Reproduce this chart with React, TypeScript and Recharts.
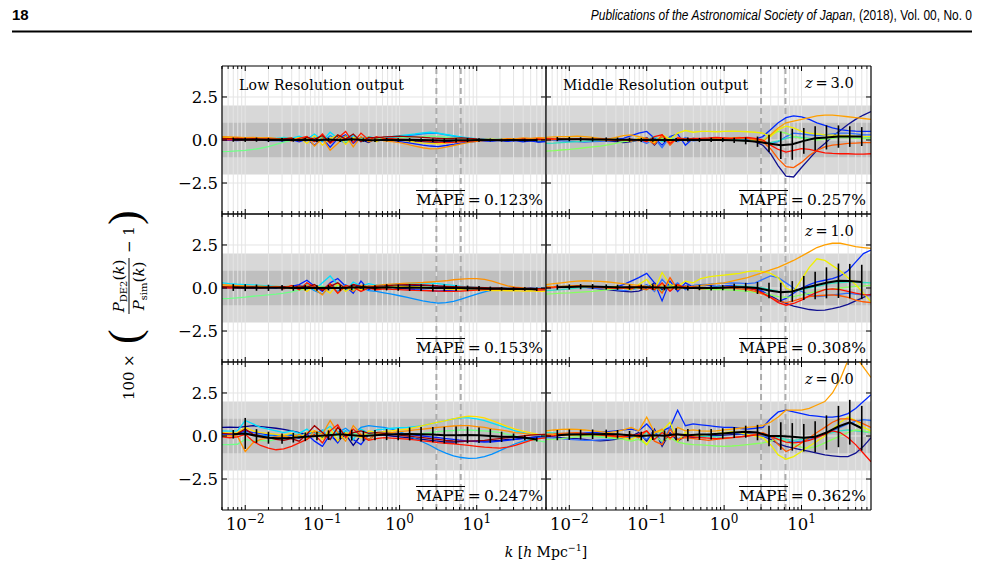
import React from 'react';
import { LineChart, Line, XAxis, YAxis, ReferenceArea, ReferenceLine, ErrorBar } from 'recharts';

// wavenumber grid (h/Mpc) of the individual realisation curves
const kGrid = [0.005, 0.0063, 0.0079, 0.01, 0.0126, 0.0158, 0.02, 0.0251, 0.0316, 0.0398,
  0.05, 0.063, 0.079, 0.1, 0.126, 0.158, 0.2, 0.251, 0.316, 0.398,
  0.5, 0.63, 0.79, 1, 1.26, 1.58, 2, 2.51, 3.16, 3.98,
  5, 6.3, 7.9, 10, 12.6, 15.8, 20, 25.1, 31.6, 39.8,
  50, 63, 79];
// coarser grid of the ensemble mean and its scatter
const kMean = [0.007, 0.01, 0.014, 0.02, 0.03, 0.042, 0.06, 0.085, 0.12, 0.17, 0.24, 0.34, 0.48, 0.68,
  0.96, 1.35, 1.9, 2.7, 3.8, 5.4, 7.6, 10.7, 15, 21, 30, 42, 60];

const xTicks = [0.005, 0.006, 0.007, 0.008, 0.009, 0.01, 0.02, 0.03, 0.04, 0.05, 0.06, 0.07, 0.08, 0.09,
  0.1, 0.2, 0.3, 0.4, 0.5, 0.6, 0.7, 0.8, 0.9, 1, 2, 3, 4, 5, 6, 7, 8, 9, 10, 20, 30, 40, 50, 60, 70];
const decadeTicks = [0.01, 0.1, 1, 10];
const decadeExponents = ['−2', '−1', '0', '1'];
const yTicks = [-2.5, 0, 2.5];
const xDomain = [0.005, 79];
const yDomain = [-4.3, 4.3];
const outerBand = [-2, 2];
const innerBand = [-1, 1];
const scaleMarks = [3, 6.2];

const leftColors = ['#00008f', '#0020ff', '#0090ff', '#00e0ff', '#70ff88', '#ffe000', '#ff9000', '#ff1800', '#a00000'];
const rightColors = ['#10108f', '#0028ff', '#3070ff', '#30e0c0', '#88ff60', '#f0f000', '#ffa000', '#ff5a00', '#ff1000'];

// ---- Low resolution, z = 3.0
const lowZ3a = [0.06, 0.05, 0.07, 0.04, 0.06, 0.03, 0.05, 0.04, 0.02, 0.06, 0.0, 0.1, -0.08, 0.15, -0.12, 0.22, -0.1, 0.12, 0.02, -0.15, 0.12, 0.0, 0.06, 0.02, -0.04, -0.08, -0.1, -0.12, -0.14, -0.1, -0.08, -0.06, -0.05, -0.04, -0.02, -0.04, 0.0, -0.06, 0.03, -0.08, -0.02, -0.1, -0.06];
const lowZ3b = [-0.02, 0.0, -0.03, 0.01, -0.02, 0.0, -0.04, -0.02, -0.06, 0.02, -0.1, 0.05, -0.3, 0.1, -0.42, 0.08, 0.3, -0.2, 0.15, 0.1, -0.08, 0.05, -0.05, -0.1, -0.15, -0.22, -0.3, -0.35, -0.38, -0.32, -0.25, -0.18, -0.12, -0.08, -0.05, -0.06, -0.02, -0.08, -0.04, -0.1, -0.05, -0.12, -0.1];
const lowZ3c = [0.08, 0.06, 0.05, 0.07, 0.04, 0.06, 0.03, 0.05, 0.08, 0.02, 0.12, -0.05, 0.18, -0.1, 0.25, 0.05, -0.2, 0.3, -0.1, 0.08, 0.15, 0.1, 0.12, 0.18, 0.25, 0.3, 0.35, 0.4, 0.38, 0.3, 0.22, 0.15, 0.1, 0.06, 0.04, 0.02, 0.03, -0.02, 0.01, -0.03, 0.0, -0.04, -0.02];
const lowZ3d = [0.12, 0.1, 0.11, 0.08, 0.1, 0.07, 0.09, 0.1, 0.15, 0.1, 0.22, 0.05, 0.35, -0.05, 0.45, 0.1, 0.2, 0.25, 0.05, 0.2, 0.1, 0.15, 0.2, 0.25, 0.3, 0.35, 0.42, 0.45, 0.4, 0.32, 0.25, 0.18, 0.12, 0.08, 0.05, 0.03, 0.04, 0.0, 0.02, -0.02, 0.01, -0.03, 0.0];
const lowZ3e = [-0.68, -0.66, -0.63, -0.6, -0.55, -0.48, -0.38, -0.25, -0.12, -0.03, 0.05, 0.1, -0.05, 0.2, 0.0, 0.15, -0.1, 0.1, 0.05, -0.05, 0.08, 0.05, 0.1, 0.12, 0.15, 0.18, 0.2, 0.22, 0.2, 0.16, 0.12, 0.08, 0.05, 0.03, 0.02, 0.01, 0.03, 0.0, 0.02, -0.01, 0.01, -0.02, 0.0];
const lowZ3f = [0.15, 0.14, 0.12, 0.13, 0.1, 0.12, 0.09, 0.08, 0.1, 0.0, 0.15, -0.2, 0.25, -0.3, 0.1, 0.28, -0.25, 0.15, 0.0, 0.18, -0.1, 0.1, 0.05, 0.0, -0.05, -0.12, -0.18, -0.2, -0.22, -0.18, -0.12, -0.06, -0.02, 0.02, 0.03, 0.05, 0.02, 0.06, 0.03, 0.07, 0.05, 0.08, 0.06];
const lowZ3g = [0.2, 0.18, 0.16, 0.14, 0.15, 0.12, 0.13, 0.1, 0.08, 0.12, -0.05, 0.2, -0.35, 0.1, -0.6, -0.2, 0.25, -0.4, 0.2, -0.1, 0.05, -0.05, -0.1, -0.15, -0.25, -0.35, -0.45, -0.52, -0.5, -0.42, -0.32, -0.22, -0.14, -0.08, -0.04, 0.0, 0.04, 0.08, 0.06, 0.12, 0.1, 0.14, 0.12];
const lowZ3h = [0.0, 0.02, 0.01, 0.03, 0.0, 0.02, 0.01, -0.02, 0.05, -0.05, 0.1, 0.2, -0.1, 0.35, -0.2, 0.1, 0.5, -0.15, 0.4, 0.0, 0.2, 0.1, 0.08, 0.05, 0.02, -0.02, -0.05, -0.08, -0.12, -0.15, -0.14, -0.1, -0.06, -0.03, 0.0, 0.02, -0.02, 0.04, 0.0, 0.05, 0.02, 0.06, 0.04];
const lowZ3i = [0.1, 0.08, 0.09, 0.07, 0.08, 0.06, 0.07, 0.05, 0.06, 0.1, -0.05, 0.15, 0.05, 0.25, -0.15, 0.3, 0.05, 0.35, -0.1, 0.15, 0.12, 0.18, 0.2, 0.22, 0.2, 0.18, 0.15, 0.12, 0.1, 0.08, 0.1, 0.12, 0.1, 0.06, 0.04, 0.02, 0.0, 0.02, -0.01, 0.03, 0.0, 0.02, 0.01];
const lowZ3Mean = [0.02, 0.01, 0.02, 0.0, 0.01, 0.0, 0.02, -0.02, 0.03, -0.02, 0.04, 0.0, -0.02, 0.02, 0.0, 0.01, 0.0, -0.02, -0.03, -0.02, -0.01, 0.0, 0.0, -0.01, 0.0, -0.01, 0.0];
const lowZ3Err = [0.12, 0.12, 0.12, 0.12, 0.1, 0.1, 0.1, 0.1, 0.1, 0.1, 0.1, 0.1, 0.1, 0.1, 0.1, 0.1, 0.1, 0.1, 0.12, 0.12, 0.12, 0.1, 0.08, 0.08, 0.08, 0.08, 0.08];

// ---- Low resolution, z = 1.0
const lowZ1a = [0.05, 0.04, 0.05, 0.03, 0.04, 0.02, 0.03, 0.02, 0.05, 0.0, 0.08, -0.05, 0.12, -0.15, 0.2, 0.0, -0.1, 0.15, -0.05, 0.1, 0.05, 0.08, 0.1, 0.12, 0.14, 0.15, 0.14, 0.12, 0.1, 0.08, 0.06, 0.05, 0.03, 0.0, -0.02, -0.04, -0.06, -0.05, -0.08, -0.06, -0.1, -0.08, -0.1];
const lowZ1b = [0.0, 0.02, 0.0, 0.01, -0.02, 0.0, 0.02, 0.0, 0.05, 0.1, 0.2, 0.45, 0.1, -0.2, 0.3, 0.55, 0.1, -0.3, 0.4, -0.1, 0.15, 0.1, 0.05, 0.0, -0.05, -0.1, -0.12, -0.15, -0.18, -0.15, -0.12, -0.1, -0.08, -0.05, -0.04, -0.02, 0.0, -0.03, 0.01, -0.04, 0.0, -0.05, -0.02];
const lowZ1c = [0.1, 0.08, 0.06, 0.07, 0.05, 0.06, 0.04, 0.05, 0.02, 0.0, -0.05, 0.1, -0.15, -0.35, 0.1, -0.2, 0.2, -0.1, 0.05, -0.15, -0.2, -0.28, -0.35, -0.45, -0.55, -0.65, -0.75, -0.82, -0.88, -0.85, -0.78, -0.65, -0.5, -0.35, -0.22, -0.12, -0.06, -0.03, -0.05, -0.02, -0.04, -0.01, -0.03];
const lowZ1d = [0.3, 0.25, 0.22, 0.2, 0.18, 0.15, 0.12, 0.1, 0.08, 0.1, 0.05, 0.2, -0.1, 0.3, 0.7, 0.2, -0.15, 0.35, 0.1, 0.25, 0.15, 0.18, 0.2, 0.22, 0.25, 0.28, 0.3, 0.28, 0.25, 0.2, 0.15, 0.1, 0.06, 0.04, 0.02, 0.0, 0.02, -0.02, 0.0, -0.03, -0.01, -0.04, -0.02];
const lowZ1e = [-0.62, -0.6, -0.57, -0.53, -0.48, -0.44, -0.4, -0.36, -0.3, -0.22, -0.12, -0.05, 0.0, 0.1, -0.05, 0.15, 0.05, -0.1, 0.12, 0.05, 0.08, 0.1, 0.12, 0.1, 0.08, 0.06, 0.05, 0.04, 0.03, 0.02, 0.0, -0.02, -0.03, -0.04, -0.05, -0.06, -0.05, -0.07, -0.05, -0.08, -0.06, -0.09, -0.08];
const lowZ1f = [0.12, 0.1, 0.08, 0.06, 0.07, 0.05, 0.06, 0.04, 0.03, -0.05, 0.1, -0.2, 0.15, 0.0, -0.3, 0.25, -0.2, 0.1, -0.1, 0.05, 0.0, 0.02, 0.05, 0.08, 0.1, 0.08, 0.05, 0.02, 0.0, -0.05, -0.08, -0.1, -0.12, -0.12, -0.14, -0.15, -0.14, -0.16, -0.15, -0.18, -0.16, -0.2, -0.2];
const lowZ1g = [0.2, 0.16, 0.14, 0.12, 0.1, 0.11, 0.08, 0.1, 0.06, 0.12, -0.1, 0.15, -0.05, -0.4, 0.2, -0.3, 0.1, -0.2, 0.15, 0.1, 0.15, 0.2, 0.22, 0.25, 0.28, 0.3, 0.32, 0.35, 0.38, 0.42, 0.48, 0.52, 0.55, 0.55, 0.5, 0.4, 0.25, 0.12, 0.05, 0.0, -0.05, -0.08, -0.12];
const lowZ1h = [0.02, 0.0, 0.03, 0.01, 0.02, 0.0, 0.02, 0.05, -0.05, 0.15, -0.1, 0.3, 0.05, -0.1, 0.25, -0.3, 0.15, 0.05, -0.2, 0.0, -0.1, -0.05, -0.08, -0.1, -0.12, -0.14, -0.15, -0.16, -0.18, -0.2, -0.2, -0.18, -0.15, -0.12, -0.1, -0.08, -0.05, -0.08, -0.04, -0.1, -0.06, -0.12, -0.1];
const lowZ1i = [0.08, 0.07, 0.06, 0.05, 0.06, 0.04, 0.05, 0.03, 0.08, 0.0, 0.12, 0.05, 0.2, -0.15, 0.1, 0.3, -0.05, 0.2, 0.1, 0.05, 0.1, 0.12, 0.15, 0.18, 0.2, 0.2, 0.18, 0.15, 0.12, 0.1, 0.08, 0.06, 0.05, 0.04, 0.02, 0.0, 0.01, -0.02, 0.0, -0.03, -0.01, -0.04, -0.03];
const lowZ1Mean = [0.03, 0.02, 0.02, 0.01, 0.02, 0.0, 0.01, 0.0, 0.02, 0.0, 0.03, 0.05, 0.0, 0.04, 0.02, 0.03, 0.02, 0.0, 0.01, 0.0, -0.02, -0.03, -0.04, -0.05, -0.06, -0.06, -0.07];
const lowZ1Err = [0.2, 0.2, 0.18, 0.18, 0.16, 0.16, 0.16, 0.16, 0.16, 0.16, 0.16, 0.16, 0.16, 0.18, 0.18, 0.2, 0.2, 0.2, 0.2, 0.18, 0.16, 0.14, 0.12, 0.1, 0.1, 0.1, 0.1];

// ---- Low resolution, z = 0.0
const lowZ0a = [0.5, 0.52, 0.5, 0.55, 0.6, 0.55, 0.5, 0.45, 0.38, 0.3, 0.2, 0.1, 0.25, -0.1, 0.05, -0.3, 0.1, -0.55, 0.05, -0.2, 0.1, 0.05, 0.0, -0.05, -0.1, -0.15, -0.2, -0.25, -0.3, -0.35, -0.35, -0.32, -0.3, -0.28, -0.3, -0.28, -0.25, -0.2, -0.18, -0.12, -0.08, -0.04, 0.0];
const lowZ0b = [0.1, 0.08, 0.12, 0.3, 0.2, 0.15, 0.05, 0.0, -0.1, 0.05, -0.15, 0.1, -0.3, -0.6, 0.1, -0.4, 0.3, -0.2, -0.5, 0.1, 0.2, 0.25, 0.2, 0.15, 0.1, 0.05, 0.0, -0.05, -0.1, -0.15, -0.2, -0.25, -0.3, -0.32, -0.35, -0.34, -0.3, -0.25, -0.2, -0.15, -0.1, -0.06, -0.04];
const lowZ0c = [0.05, 0.04, 0.06, 0.2, 0.1, 0.05, 0.0, 0.08, 0.02, 0.1, 0.0, 0.2, 0.1, 0.35, -0.2, 0.2, 0.45, 0.1, 0.5, 0.6, 0.55, 0.5, 0.4, 0.25, 0.05, -0.15, -0.35, -0.55, -0.8, -1.0, -1.15, -1.25, -1.3, -1.28, -1.2, -1.05, -0.85, -0.65, -0.45, -0.3, -0.2, -0.12, -0.08];
const lowZ0d = [0.3, 0.28, 0.3, 0.9, 0.7, 0.5, 0.4, 0.3, 0.2, 0.3, 0.15, 0.4, 0.0, 0.3, 0.55, 0.1, 0.3, -0.2, 0.4, 0.15, 0.35, 0.4, 0.45, 0.48, 0.5, 0.55, 0.6, 0.7, 0.8, 0.9, 1.0, 1.05, 1.05, 1.0, 0.9, 0.75, 0.6, 0.45, 0.3, 0.2, 0.1, 0.05, 0.0];
const lowZ0e = [-0.5, -0.5, -0.48, -0.2, -0.3, -0.25, -0.3, -0.2, -0.15, -0.1, 0.0, -0.1, 0.1, -0.05, 0.2, 0.0, -0.15, 0.2, 0.0, 0.1, 0.15, 0.12, 0.1, 0.08, 0.1, 0.12, 0.15, 0.2, 0.25, 0.3, 0.32, 0.35, 0.35, 0.32, 0.3, 0.25, 0.2, 0.1, 0.0, -0.1, -0.2, -0.28, -0.35];
const lowZ0f = [0.2, 0.18, 0.2, 0.5, 0.3, 0.2, 0.15, 0.1, 0.05, 0.15, -0.1, 0.2, 0.3, -0.2, 0.45, -0.3, 0.2, 0.05, -0.1, 0.3, 0.2, 0.25, 0.3, 0.35, 0.4, 0.5, 0.6, 0.7, 0.8, 0.9, 1.0, 1.1, 1.15, 1.12, 1.05, 0.9, 0.72, 0.55, 0.4, 0.28, 0.18, 0.1, 0.05];
const lowZ0g = [0.0, 0.02, 0.0, -0.9, -0.4, -0.2, -0.1, -0.05, 0.0, -0.1, 0.1, -0.2, 0.3, 0.1, 0.9, 0.2, -0.3, 0.6, 0.1, -0.2, 0.1, 0.15, 0.2, 0.25, 0.3, 0.35, 0.4, 0.45, 0.5, 0.55, 0.58, 0.6, 0.6, 0.55, 0.5, 0.42, 0.35, 0.28, 0.2, 0.15, 0.1, 0.08, 0.1];
const lowZ0h = [-0.05, -0.1, -0.05, 0.1, -0.3, -0.55, -0.7, -0.8, -0.75, -0.6, -0.4, -0.2, 0.1, -0.4, 0.3, 0.65, -0.1, 0.4, 0.0, -0.25, -0.15, -0.1, -0.12, -0.15, -0.18, -0.22, -0.28, -0.32, -0.38, -0.42, -0.45, -0.5, -0.55, -0.6, -0.65, -0.68, -0.7, -0.65, -0.55, -0.4, -0.25, -0.15, -0.1];
const lowZ0i = [0.15, 0.12, 0.14, 0.4, 0.1, 0.0, -0.1, -0.2, -0.25, -0.15, -0.3, 0.1, 0.6, 0.2, -0.2, 0.5, 0.0, 0.2, 0.3, 0.15, 0.2, 0.15, 0.1, 0.05, 0.0, -0.05, -0.1, -0.15, -0.2, -0.25, -0.28, -0.3, -0.3, -0.28, -0.25, -0.2, -0.15, -0.1, -0.05, 0.0, 0.05, 0.08, 0.1];
const lowZ0Mean = [0.1, 0.15, 0.0, -0.1, -0.15, -0.1, -0.05, 0.0, 0.05, 0.1, 0.05, 0.0, 0.05, 0.08, 0.1, 0.12, 0.1, 0.08, 0.05, 0.05, 0.06, 0.05, 0.0, -0.05, -0.05, -0.1, -0.2];
const lowZ0Err = [0.25, 0.9, 0.4, 0.35, 0.3, 0.28, 0.25, 0.25, 0.28, 0.3, 0.32, 0.3, 0.3, 0.32, 0.35, 0.38, 0.42, 0.45, 0.48, 0.5, 0.48, 0.45, 0.4, 0.3, 0.2, 0.15, 0.12];

// ---- Middle resolution, z = 3.0
const midZ3a = [0.05, 0.04, 0.05, 0.06, 0.05, 0.04, 0.02, 0.0, -0.05, -0.1, -0.15, -0.1, 0.0, 0.15, -0.3, 0.2, -0.1, 0.1, 0.0, 0.05, 0.02, 0.0, 0.0, 0.02, 0.0, -0.02, -0.05, -0.1, -0.3, -0.8, -1.5, -2.1, -2.15, -1.6, -1.1, -0.6, -0.2, 0.2, 0.55, 0.9, 1.2, 1.45, 1.65];
const midZ3b = [0.1, 0.08, 0.06, 0.05, 0.04, 0.05, 0.03, 0.02, 0.0, 0.05, 0.1, 0.25, 0.4, 0.5, 0.1, -0.3, 0.2, 0.35, -0.3, 0.1, 0.0, 0.05, 0.02, 0.0, -0.02, 0.0, 0.02, 0.05, 0.2, 0.6, 1.0, 1.3, 1.4, 1.35, 1.2, 1.0, 0.85, 0.7, 0.6, 0.55, 0.52, 0.5, 0.5];
const midZ3c = [0.0, -0.02, -0.05, -0.08, -0.1, -0.12, -0.1, -0.08, -0.05, -0.02, 0.0, 0.05, 0.0, -0.2, 0.1, -0.45, 0.2, -0.1, 0.15, -0.05, 0.0, 0.02, 0.0, -0.02, 0.0, 0.02, 0.0, -0.05, -0.1, -0.2, -0.1, 0.2, 0.4, 0.35, 0.3, 0.25, 0.3, 0.35, 0.4, 0.4, 0.35, 0.3, 0.3];
const midZ3d = [-0.2, -0.18, -0.15, -0.12, -0.1, -0.08, -0.05, -0.02, 0.0, 0.02, 0.0, -0.05, 0.05, 0.0, 0.2, -0.1, 0.1, 0.0, 0.05, 0.0, 0.02, 0.05, 0.02, 0.0, 0.02, 0.0, -0.02, -0.05, -0.1, -0.15, -0.05, 0.1, 0.2, 0.15, 0.1, 0.05, 0.1, 0.15, 0.2, 0.22, 0.2, 0.18, 0.15];
const midZ3e = [-0.65, -0.62, -0.58, -0.55, -0.5, -0.45, -0.4, -0.35, -0.28, -0.2, -0.1, -0.05, 0.0, 0.05, -0.1, 0.1, 0.0, 0.05, 0.0, 0.02, 0.0, 0.0, -0.02, 0.0, 0.0, -0.02, -0.05, -0.05, 0.0, 0.3, 0.5, 0.4, 0.2, 0.1, 0.05, 0.0, 0.05, 0.1, 0.15, 0.12, 0.1, 0.08, 0.05];
const midZ3f = [0.05, 0.06, 0.08, 0.1, 0.08, 0.06, 0.05, 0.03, 0.0, 0.05, 0.0, -0.05, 0.1, 0.0, -0.2, 0.3, 0.05, 0.4, 0.55, 0.45, 0.5, 0.5, 0.48, 0.5, 0.52, 0.5, 0.48, 0.45, 0.4, 0.2, 0.6, 0.8, 0.7, 0.5, 0.4, 0.35, 0.3, 0.28, 0.25, 0.25, 0.22, 0.2, 0.2];
const midZ3g = [0.15, 0.18, 0.2, 0.2, 0.22, 0.2, 0.15, 0.1, 0.05, 0.15, 0.25, 0.3, 0.2, 0.1, -0.1, 0.2, -0.1, 0.1, 0.0, 0.05, 0.0, 0.05, 0.08, 0.1, 0.12, 0.15, 0.1, 0.0, -0.1, 0.3, 0.7, 1.0, 1.1, 1.2, 1.3, 1.4, 1.45, 1.45, 1.4, 1.35, 1.3, 1.25, 1.2];
const midZ3h = [0.0, 0.02, 0.04, 0.05, 0.06, 0.05, 0.04, 0.02, 0.0, -0.02, 0.0, 0.05, -0.05, 0.1, -0.25, 0.3, -0.3, 0.15, 0.05, 0.1, 0.08, 0.05, 0.05, 0.08, 0.1, 0.12, 0.1, 0.05, -0.1, -0.5, -1.1, -1.55, -1.6, -1.3, -0.9, -0.6, -0.4, -0.3, -0.25, -0.2, -0.18, -0.15, -0.15];
const midZ3i = [0.08, 0.07, 0.06, 0.05, 0.06, 0.05, 0.04, 0.05, 0.03, 0.0, 0.02, -0.05, 0.05, -0.1, 0.2, 0.3, -0.2, 0.1, 0.05, 0.08, 0.1, 0.12, 0.15, 0.12, 0.1, 0.12, 0.15, 0.1, 0.0, -0.3, -0.55, -0.7, -0.6, -0.5, -0.55, -0.65, -0.75, -0.78, -0.8, -0.8, -0.82, -0.82, -0.8];
const midZ3Mean = [0.05, 0.05, 0.04, 0.03, 0.03, 0.02, 0.02, 0.0, 0.02, 0.0, 0.0, 0.02, 0.0, 0.01, 0.0, -0.02, -0.05, -0.1, -0.2, -0.3, -0.25, -0.05, 0.1, 0.15, 0.2, 0.2, 0.2];
const midZ3Err = [0.12, 0.12, 0.12, 0.12, 0.12, 0.12, 0.12, 0.12, 0.12, 0.12, 0.12, 0.12, 0.12, 0.12, 0.12, 0.15, 0.2, 0.3, 0.5, 0.8, 0.9, 0.75, 0.7, 0.7, 0.65, 0.6, 0.55];

// ---- Middle resolution, z = 1.0
const midZ1a = [0.05, 0.08, 0.1, 0.12, 0.1, 0.05, 0.0, -0.05, -0.1, -0.15, -0.2, -0.22, -0.18, 0.0, 0.3, -0.1, 0.2, 0.0, 0.1, 0.05, 0.0, 0.02, 0.05, 0.08, 0.1, 0.05, 0.0, -0.1, -0.25, -0.45, -0.7, -0.9, -1.05, -1.15, -1.25, -1.3, -1.28, -1.2, -1.1, -0.95, -0.75, -0.55, -0.35];
const midZ1b = [0.0, 0.02, 0.05, 0.1, 0.12, 0.1, 0.05, 0.0, -0.05, 0.05, 0.2, 0.4, 0.6, 0.85, 0.3, -0.75, 0.4, -0.2, 0.3, 0.05, 0.2, 0.15, 0.1, 0.12, 0.15, 0.1, 0.05, 0.0, -0.2, -0.5, -0.8, -0.6, -0.3, 0.0, 0.2, 0.35, 0.45, 0.55, 0.7, 1.0, 1.5, 2.0, 2.2];
const midZ1c = [0.1, 0.08, 0.06, 0.05, 0.04, 0.02, 0.0, -0.02, -0.05, -0.1, -0.15, -0.1, 0.0, 0.2, -0.2, 0.5, 0.0, 0.3, -0.1, 0.15, 0.2, 0.22, 0.25, 0.28, 0.3, 0.28, 0.25, 0.3, 0.5, 0.7, 0.6, 0.3, 0.0, -0.2, -0.4, -0.5, -0.45, -0.4, -0.35, -0.3, -0.35, -0.4, -0.45];
const midZ1d = [-0.15, -0.12, -0.1, -0.05, 0.0, 0.02, 0.05, 0.08, 0.1, 0.05, 0.0, -0.05, 0.0, -0.1, 0.2, -0.2, 0.1, 0.0, 0.05, 0.02, 0.0, 0.02, 0.05, 0.08, 0.1, 0.12, 0.1, 0.05, 0.0, -0.1, -0.2, -0.25, -0.2, -0.1, 0.0, 0.1, 0.2, 0.28, 0.32, 0.35, 0.35, 0.32, 0.3];
const midZ1e = [-0.35, -0.33, -0.3, -0.28, -0.25, -0.22, -0.2, -0.15, -0.1, -0.05, 0.0, 0.05, 0.0, 0.1, -0.1, 0.05, 0.1, -0.05, 0.05, 0.0, -0.05, -0.08, -0.1, -0.1, -0.12, -0.15, -0.2, -0.25, -0.3, -0.4, -0.5, -0.55, -0.5, -0.4, -0.3, -0.2, -0.1, -0.05, 0.0, 0.05, 0.1, 0.12, 0.15];
const midZ1f = [0.1, 0.08, 0.1, 0.12, 0.15, 0.12, 0.1, 0.05, 0.0, 0.1, 0.0, -0.1, 0.2, 0.5, -0.1, 0.9, 0.2, 0.1, 0.4, 0.3, 0.55, 0.65, 0.7, 0.75, 0.8, 0.85, 0.95, 1.0, 0.95, 0.85, 0.6, 0.0, -0.2, 0.5, 1.2, 1.7, 1.6, 1.3, 1.0, 0.6, 0.2, -0.3, -0.8];
const midZ1g = [0.2, 0.25, 0.3, 0.35, 0.4, 0.42, 0.4, 0.38, 0.35, 0.3, 0.25, 0.2, 0.15, 0.1, 0.0, 0.2, -0.1, 0.15, 0.05, 0.1, 0.15, 0.2, 0.25, 0.3, 0.4, 0.5, 0.6, 0.75, 0.9, 1.05, 1.2, 1.4, 1.6, 1.85, 2.1, 2.35, 2.5, 2.6, 2.6, 2.5, 2.4, 2.35, 2.3];
const midZ1h = [0.0, 0.02, 0.05, 0.08, 0.1, 0.08, 0.05, 0.02, 0.0, -0.02, 0.0, 0.1, 0.0, -0.1, 0.2, -0.3, 0.6, -0.1, 0.1, 0.0, -0.05, -0.02, 0.0, 0.02, 0.0, -0.05, -0.1, -0.2, -0.35, -0.55, -0.75, -0.85, -0.75, -0.6, -0.5, -0.45, -0.42, -0.4, -0.45, -0.55, -0.7, -0.8, -0.85];
const midZ1i = [0.05, 0.06, 0.08, 0.1, 0.12, 0.1, 0.08, 0.05, 0.03, 0.0, 0.02, -0.05, 0.1, 0.05, -0.1, 0.3, -0.2, 0.2, 0.0, 0.05, 0.0, -0.02, 0.0, 0.05, 0.08, 0.05, 0.0, -0.1, -0.3, -0.55, -0.85, -1.0, -0.9, -0.7, -0.45, -0.25, -0.1, -0.05, -0.1, -0.2, -0.3, -0.38, -0.4];
const midZ1Mean = [0.05, 0.06, 0.08, 0.08, 0.06, 0.04, 0.05, 0.05, 0.05, 0.02, 0.05, 0.0, 0.02, 0.0, 0.02, 0.05, 0.05, 0.0, -0.15, -0.25, -0.2, 0.0, 0.15, 0.3, 0.42, 0.4, 0.35];
const midZ1Err = [0.15, 0.15, 0.15, 0.15, 0.15, 0.15, 0.15, 0.15, 0.15, 0.15, 0.15, 0.15, 0.15, 0.15, 0.15, 0.2, 0.25, 0.35, 0.45, 0.55, 0.6, 0.7, 0.8, 0.9, 1.0, 1.0, 1.0];

// ---- Middle resolution, z = 0.0
const midZ0a = [0.0, -0.05, -0.1, -0.12, -0.15, -0.2, -0.25, -0.28, -0.25, -0.2, -0.1, 0.0, 0.2, -0.3, 0.4, -0.6, 0.2, -0.3, 0.0, -0.1, -0.05, 0.0, 0.02, 0.05, 0.08, 0.1, 0.12, 0.1, 0.0, -0.2, -0.45, -0.6, -0.7, -0.8, -0.9, -1.0, -1.1, -1.15, -1.2, -1.2, -1.0, -0.6, -0.1];
const midZ0b = [0.05, 0.08, 0.1, 0.12, 0.15, 0.18, 0.2, 0.22, 0.25, 0.3, 0.35, 0.4, 0.3, 0.7, 0.2, 0.3, 0.5, 1.5, 0.6, 0.7, 0.65, 0.6, 0.55, 0.5, 0.5, 0.45, 0.4, 0.45, 0.5, 1.0, 1.4, 1.5, 1.4, 1.3, 1.2, 1.15, 1.1, 1.1, 1.15, 1.3, 1.6, 2.0, 2.4];
const midZ0c = [-0.1, -0.12, -0.15, -0.2, -0.22, -0.25, -0.25, -0.22, -0.2, -0.15, -0.1, -0.05, 0.0, -0.2, 0.3, -0.4, 0.5, -0.2, 0.1, 0.0, 0.05, 0.1, 0.12, 0.15, 0.15, 0.12, 0.1, 0.05, 0.0, -0.1, -0.2, -0.3, -0.35, -0.3, -0.2, -0.05, 0.1, 0.3, 0.5, 0.7, 0.85, 0.95, 0.9];
const midZ0d = [0.2, 0.18, 0.15, 0.12, 0.1, 0.05, 0.0, -0.05, -0.1, -0.1, -0.05, 0.0, -0.1, 0.2, -0.2, 0.3, -0.1, 0.1, 0.0, 0.05, 0.0, -0.02, -0.05, -0.08, -0.1, -0.05, 0.0, 0.05, 0.1, 0.0, -0.1, -0.2, -0.25, -0.2, -0.1, 0.0, 0.1, 0.2, 0.3, 0.35, 0.3, 0.25, 0.2];
const midZ0e = [-0.2, -0.18, -0.15, -0.1, -0.05, 0.0, 0.0, -0.05, -0.1, -0.15, -0.2, -0.3, -0.2, -0.5, 0.0, -0.3, -0.1, -0.35, -0.45, -0.5, -0.52, -0.55, -0.58, -0.6, -0.58, -0.55, -0.5, -0.45, -0.4, -0.3, -0.2, -0.3, -0.5, -0.65, -0.7, -0.6, -0.4, -0.2, 0.0, 0.2, 0.35, 0.3, 0.2];
const midZ0f = [0.1, 0.08, 0.05, 0.04, 0.05, 0.06, 0.08, 0.05, 0.0, -0.05, -0.1, -0.2, 0.0, -0.5, 0.2, 0.3, 0.8, -0.3, 0.2, 0.0, 0.05, 0.1, 0.15, 0.2, 0.25, 0.2, 0.1, 0.0, -0.1, -0.5, -1.1, -1.35, -1.2, -0.9, -0.6, -0.3, 0.0, 0.4, 0.8, 1.1, 0.9, 0.5, 0.3];
const midZ0g = [0.3, 0.35, 0.38, 0.4, 0.38, 0.35, 0.3, 0.25, 0.2, 0.25, 0.35, 0.5, 0.3, 1.1, 0.2, 0.4, -0.2, 0.5, 0.3, 0.35, 0.3, 0.28, 0.3, 0.35, 0.4, 0.45, 0.5, 0.55, 0.6, 0.8, 1.1, 1.5, 1.5, 1.5, 1.6, 1.8, 2.0, 2.5, 3.3, 4.4, 4.6, 4.0, 3.4];
const midZ0h = [0.1, 0.12, 0.15, 0.18, 0.2, 0.15, 0.1, 0.05, 0.0, -0.05, 0.0, 0.1, -0.1, 0.3, -0.3, -0.5, 0.4, -0.2, -0.1, -0.15, -0.2, -0.25, -0.2, -0.15, -0.1, -0.05, 0.0, 0.1, 0.2, 0.0, -0.5, -0.9, -0.7, -0.4, -0.1, 0.2, 0.5, 0.8, 1.0, 1.0, 0.9, 0.7, 0.5];
const midZ0i = [0.0, 0.02, 0.05, 0.08, 0.1, 0.12, 0.1, 0.08, 0.05, 0.0, -0.05, 0.0, 0.1, 0.3, -0.2, 0.2, -0.1, 0.1, 0.0, -0.05, -0.1, -0.12, -0.15, -0.12, -0.1, -0.05, 0.0, 0.05, 0.1, 0.0, -0.2, -0.35, -0.4, -0.35, -0.25, -0.1, 0.1, 0.3, 0.2, -0.1, -0.5, -1.0, -1.5];
const midZ0Mean = [0.05, 0.08, 0.08, 0.1, 0.12, 0.1, 0.05, 0.0, 0.05, 0.02, 0.1, 0.05, 0.08, 0.1, 0.15, 0.2, 0.25, 0.2, 0.0, 0.0, -0.05, -0.1, -0.05, 0.2, 0.55, 0.8, 0.45];
const midZ0Err = [0.3, 0.3, 0.28, 0.28, 0.25, 0.25, 0.25, 0.25, 0.28, 0.3, 0.35, 0.35, 0.3, 0.3, 0.3, 0.32, 0.35, 0.45, 0.6, 0.8, 0.8, 0.8, 0.9, 1.0, 1.2, 1.3, 1.3];

// plot geometry (page pixels)
const colLeft = [222, 546];
const colWidth = [324, 325];
const rowTop = [66, 214, 362];
const PLOT_H = 148;
const AX_L = 70;
const AX_R = 10;
const AX_T = 10;
const AX_B = 45;
const SERIF = 'DejaVu Serif';

const xTick = (showLabel: boolean) => (p: any) => {
  const x = p.x;
  const v = p.payload.value;
  const di = decadeTicks.indexOf(v);
  const len = di >= 0 ? 5 : 3;
  const yb = AX_T + PLOT_H;
  const yt = AX_T;
  return (
    <g>
      <line x1={x} x2={x} y1={yb} y2={yb - len} stroke="#000" strokeWidth={1} />
      <line x1={x} x2={x} y1={yt} y2={yt + len} stroke="#000" strokeWidth={1} />
      {showLabel && di >= 0 ? (
        <text x={x} y={yb + 20} textAnchor="middle" fontFamily={SERIF} fontSize={16.5} fill="#000">
          10<tspan dy={-7} fontSize={12}>{decadeExponents[di]}</tspan>
        </text>
      ) : null}
    </g>
  );
};

const yTick = (showLabel: boolean, plotW: number) => (p: any) => {
  const y = p.y;
  const v = p.payload.value;
  const xl = AX_L;
  const xr = AX_L + plotW;
  return (
    <g>
      <line x1={xl} x2={xl + 5} y1={y} y2={y} stroke="#000" strokeWidth={1} />
      <line x1={xr} x2={xr - 5} y1={y} y2={y} stroke="#000" strokeWidth={1} />
      {showLabel ? (
        <text x={xl - 4} y={y + 6} textAnchor="end" fontFamily={SERIF} fontSize={16.5} fill="#000">
          {v.toFixed(1).replace('-', '−')}
        </text>
      ) : null}
    </g>
  );
};

type PanelProps = {
  series: number[][];
  colors: string[];
  mean: number[];
  err: number[];
  left: number;
  top: number;
  plotW: number;
  yLabels: boolean;
  xLabels: boolean;
};

function Panel({ series, colors, mean, err, left, top, plotW, yLabels, xLabels }: PanelProps) {
  const rows = kGrid.map((k, i) => {
    const r: Record<string, number> = { k };
    series.forEach((s, j) => {
      r['s' + j] = s[i];
    });
    return r;
  });
  const meanRows = kMean.map((k, i) => ({ k, v: mean[i], e: err[i] }));
  return (
    <div style={{ position: 'absolute', left: left - AX_L, top: top - AX_T }}>
      <LineChart
        width={AX_L + plotW + AX_R}
        height={AX_T + PLOT_H + AX_B}
        data={rows}
        margin={{ top: AX_T, right: AX_R, bottom: 0, left: 0 }}
      >
        <XAxis
          dataKey="k"
          type="number"
          scale="log"
          domain={xDomain}
          allowDataOverflow
          ticks={xTicks}
          interval={0}
          height={AX_B}
          axisLine={false}
          tickLine={false}
          tick={xTick(xLabels)}
        />
        <YAxis
          type="number"
          domain={yDomain}
          allowDataOverflow
          ticks={yTicks}
          interval={0}
          width={AX_L}
          axisLine={false}
          tickLine={false}
          tick={yTick(yLabels, plotW)}
        />
        <ReferenceArea y1={outerBand[0]} y2={outerBand[1]} fill="#d8d8d8" fillOpacity={1} stroke="none" />
        <ReferenceArea y1={innerBand[0]} y2={innerBand[1]} fill="#bfbfbf" fillOpacity={1} stroke="none" />
        {xTicks.map((v) => (
          <ReferenceLine key={'gx' + v} x={v} stroke="#e4e4e4" strokeWidth={1} />
        ))}
        {yTicks.map((v) => (
          <ReferenceLine key={'gy' + v} y={v} stroke="#e4e4e4" strokeWidth={1} />
        ))}
        {scaleMarks.map((v) => (
          <ReferenceLine key={'m' + v} x={v} stroke="#acacac" strokeWidth={2} strokeDasharray="6 4" />
        ))}
        {series.map((_, j) => (
          <Line
            key={'s' + j}
            dataKey={'s' + j}
            stroke={colors[j]}
            strokeWidth={1.3}
            dot={false}
            activeDot={false}
            isAnimationActive={false}
          />
        ))}
        <Line
          data={meanRows}
          dataKey="v"
          stroke="#000"
          strokeWidth={2}
          dot={false}
          activeDot={false}
          isAnimationActive={false}
        >
          <ErrorBar dataKey="e" width={0} stroke="#000" strokeWidth={1.6} direction="y" isAnimationActive={false} />
        </Line>
        <ReferenceLine x={xDomain[0]} stroke="#000" strokeWidth={1.2} />
        <ReferenceLine x={xDomain[1]} stroke="#000" strokeWidth={1.2} />
        <ReferenceLine y={yDomain[0]} stroke="#000" strokeWidth={1.2} />
        <ReferenceLine y={yDomain[1]} stroke="#000" strokeWidth={1.2} />
      </LineChart>
    </div>
  );
}

const panels = [
  { series: [lowZ3a, lowZ3b, lowZ3c, lowZ3d, lowZ3e, lowZ3f, lowZ3g, lowZ3h, lowZ3i], mean: lowZ3Mean, err: lowZ3Err, col: 0, row: 0 },
  { series: [midZ3a, midZ3b, midZ3c, midZ3d, midZ3e, midZ3f, midZ3g, midZ3h, midZ3i], mean: midZ3Mean, err: midZ3Err, col: 1, row: 0 },
  { series: [lowZ1a, lowZ1b, lowZ1c, lowZ1d, lowZ1e, lowZ1f, lowZ1g, lowZ1h, lowZ1i], mean: lowZ1Mean, err: lowZ1Err, col: 0, row: 1 },
  { series: [midZ1a, midZ1b, midZ1c, midZ1d, midZ1e, midZ1f, midZ1g, midZ1h, midZ1i], mean: midZ1Mean, err: midZ1Err, col: 1, row: 1 },
  { series: [lowZ0a, lowZ0b, lowZ0c, lowZ0d, lowZ0e, lowZ0f, lowZ0g, lowZ0h, lowZ0i], mean: lowZ0Mean, err: lowZ0Err, col: 0, row: 2 },
  { series: [midZ0a, midZ0b, midZ0c, midZ0d, midZ0e, midZ0f, midZ0g, midZ0h, midZ0i], mean: midZ0Mean, err: midZ0Err, col: 1, row: 2 },
];

const redshiftLabels = ['3.0', '1.0', '0.0'];
const mapeLeft = ['0.123', '0.153', '0.247'];
const mapeRight = ['0.257', '0.308', '0.362'];
const resolutionTitles = ['Low Resolution output', 'Middle Resolution output'];

// text placed by its baseline (DejaVu ascent ≈ 0.846 em with line-height 1)
function Note({ x, right, baseline, size, children, spacing }: any) {
  const style: React.CSSProperties = {
    position: 'absolute',
    top: baseline - 0.846 * size,
    fontFamily: SERIF,
    fontSize: size,
    lineHeight: 1,
    whiteSpace: 'nowrap',
    color: '#000',
    letterSpacing: spacing || 0,
  };
  if (right !== undefined) style.right = 981 - right;
  else style.left = x;
  return <div style={style}>{children}</div>;
}

export default function App() {
  return (
    <div style={{ position: 'absolute', left: 0, top: 0, width: 981, height: 574, background: '#fff', overflow: 'hidden' }}>
      <svg width={981} height={574} style={{ position: 'absolute', left: 0, top: 0 }}>
        <text x={12} y={20} fontFamily="Liberation Sans" fontWeight="bold" fontSize={15} fill="#000">18</text>
        <g transform="translate(972,20) scale(0.855,1)">
          <text x={0} y={0} textAnchor="end" fontFamily="Liberation Sans" fontSize={14} fill="#000">
            <tspan fontStyle="italic">Publications of the Astronomical Society of Japan</tspan>, (2018), Vol. 00, No. 0
          </text>
        </g>
        <rect x={12} y={30.5} width={960} height={2} fill="#000" />

        {/* vertical axis title */}
        <g transform="translate(129,300) rotate(-90)" fontFamily={SERIF} fontSize={15} fill="#000">
          <text x={-100} y={5}>100</text>
          <text x={-67} y={5}>×</text>
          <text x={-44} y={10} fontFamily="Liberation Serif" fontSize={44}>(</text>
          <text x={14} y={-5} textAnchor="middle">
            <tspan fontStyle="italic">P</tspan>
            <tspan fontSize={10} dy={3}>DE2</tspan>
            <tspan dy={-3}>(</tspan>
            <tspan fontStyle="italic">k</tspan>)
          </text>
          <line x1={-14} x2={42} y1={0} y2={0} stroke="#000" strokeWidth={1} />
          <text x={14} y={15} textAnchor="middle">
            <tspan fontStyle="italic">P</tspan>
            <tspan fontSize={10} dy={3}>sim</tspan>
            <tspan dy={-3}>(</tspan>
            <tspan fontStyle="italic">k</tspan>)
          </text>
          <text x={47} y={5}>− 1</text>
          <text x={75} y={10} fontFamily="Liberation Serif" fontSize={44}>)</text>
        </g>

        {/* horizontal axis title */}
        <text x={546} y={557} textAnchor="middle" fontFamily={SERIF} fontSize={14} fill="#000">
          <tspan fontStyle="italic">k</tspan> [<tspan fontStyle="italic">h</tspan> Mpc
          <tspan dy={-6} fontSize={9.5}>−1</tspan>
          <tspan dy={6}>]</tspan>
        </text>
      </svg>

      {panels.map((p, i) => (
        <Panel
          key={i}
          series={p.series}
          colors={p.col === 0 ? leftColors : rightColors}
          mean={p.mean}
          err={p.err}
          left={colLeft[p.col]}
          top={rowTop[p.row]}
          plotW={colWidth[p.col]}
          yLabels={p.col === 0}
          xLabels={p.row === 2}
        />
      ))}

      <Note x={239} baseline={90} size={14} spacing={0.2}>{resolutionTitles[0]}</Note>
      <Note x={563} baseline={90} size={14} spacing={0.2}>{resolutionTitles[1]}</Note>
      {redshiftLabels.map((z, r) => (
        <Note key={'z' + r} x={805} baseline={88 + 148 * r} size={14.5}>
          <i>z</i>{'\u2009=\u2009'}{z}
        </Note>
      ))}
      {mapeLeft.map((m, r) => (
        <Note key={'ml' + r} right={543} baseline={206.5 + 148 * r} size={15.5}>
          <span style={{ borderTop: '1.4px solid #000' }}>MAPE</span>{'\u2009=\u2009'}{m}%
        </Note>
      ))}
      {mapeRight.map((m, r) => (
        <Note key={'mr' + r} right={866} baseline={206.5 + 148 * r} size={15.5}>
          <span style={{ borderTop: '1.4px solid #000' }}>MAPE</span>{'\u2009=\u2009'}{m}%
        </Note>
      ))}
    </div>
  );
}
